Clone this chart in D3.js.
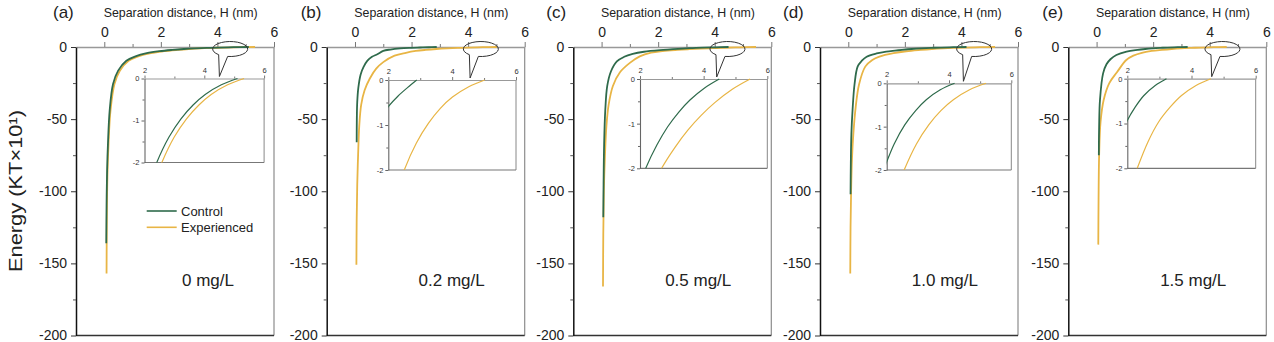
<!DOCTYPE html>
<html>
<head>
<meta charset="utf-8">
<script src="https://cdn.jsdelivr.net/npm/d3@7"></script>
<style>
  html, body { margin: 0; padding: 0; background: #fff; }
  svg { display: block; font-family: Arial, "Liberation Sans", sans-serif; }
</style>
</head>
<body>
<svg id="chart" width="1274" height="342"></svg>
<script>
// ---------- data ----------
const panelLabels = ["(a)", "(b)", "(c)", "(d)", "(e)"];
const concLabels = ["0 mg/L", "0.2 mg/L", "0.5 mg/L", "1.0 mg/L", "1.5 mg/L"];
const seriesNames = ["Control", "Experienced"];
const xTitle = "Separation distance, H (nm)";
const yTitle = "Energy (KT\u00D710\u00B9)";
const xTicks = [0, 2, 4, 6];
const xMinorTicks = [1, 3, 5];
const yTicks = [0, -50, -100, -150, -200];
const yMinorTicks = [-25, -75, -125, -175];
const insetXTicks = [2, 4, 6];
const insetXMinor = [3, 5];
const insetYTicks = [0, -1, -2];
const insetYMinor = [-0.5, -1.5];

// [H (nm), energy (KT x10^1)]
const control_0 = [[0.07,-136],[0.08,-110],[0.1,-85],[0.13,-67],[0.19,-44],[0.31,-25.6],[0.49,-16.4],[0.78,-9.5],[1.1,-6.5],[1.5,-4.3],[1.95,-2.9],[2.41,-2],[2.815,-1.40],[3.22,-0.96],[3.625,-0.63],[4.03,-0.38],[4.57,-0.15],[5.11,0]];
const experienced_0 = [[0.08,-157],[0.09,-120],[0.11,-90],[0.15,-67],[0.22,-44],[0.36,-25.6],[0.55,-16.4],[0.86,-9.5],[1.2,-6.5],[1.65,-4.2],[2.1,-2.9],[2.58,-2],[2.99,-1.40],[3.405,-0.96],[3.82,-0.63],[4.23,-0.38],[4.78,-0.15],[5.33,0]];
const control_02 = [[0.06,-66],[0.065,-50],[0.08,-38],[0.12,-28],[0.2,-19],[0.3,-14],[0.44,-9.5],[0.6,-6.8],[0.79,-5],[1.0,-2.7],[1.25,-1.75],[1.6,-1.0],[2,-0.59],[2.3,-0.36],[2.6,-0.17],[2.89,0]];
const experienced_02 = [[0.05,-151],[0.06,-120],[0.08,-95],[0.11,-75],[0.15,-55],[0.22,-40],[0.34,-30],[0.52,-22],[0.75,-15],[1.0,-10.5],[1.4,-6.0],[1.8,-4.0],[2.15,-2.75],[2.5,-2],[2.88,-1.40],[3.26,-0.96],[3.63,-0.63],[4.01,-0.38],[4.52,-0.15],[5.02,0]];
const control_05 = [[0.06,-118],[0.07,-95],[0.09,-67],[0.13,-44],[0.2,-27],[0.33,-17],[0.54,-10],[0.8,-6.8],[1.1,-4.8],[1.5,-3.3],[2.18,-2],[2.53,-1.48],[2.87,-1.07],[3.22,-0.74],[3.57,-0.47],[4.03,-0.20],[4.49,0]];
const experienced_05 = [[0.05,-166],[0.06,-130],[0.08,-100],[0.12,-75],[0.17,-55],[0.25,-40],[0.4,-27],[0.65,-17.5],[1.0,-11],[1.35,-6.5],[1.75,-3.9],[2.15,-2.8],[2.68,-2],[3.1,-1.53],[3.51,-1.14],[3.93,-0.81],[4.35,-0.53],[4.9,-0.23],[5.46,0]];
const control_10 = [[0.08,-102],[0.09,-80],[0.11,-60],[0.15,-44],[0.22,-26],[0.33,-13.6],[0.48,-9.5],[0.65,-6.7],[1.0,-4.5],[1.34,-3.2],[1.65,-2.5],[1.9,-2],[2.24,-1.40],[2.58,-0.96],[2.93,-0.63],[3.27,-0.38],[3.72,-0.15],[4.18,0]];
const experienced_10 = [[0.07,-157],[0.08,-125],[0.1,-100],[0.13,-78],[0.18,-60],[0.26,-42],[0.38,-26],[0.6,-13.6],[0.85,-9],[1.1,-6.7],[1.6,-4.3],[2.05,-2.95],[2.56,-2],[2.955,-1.40],[3.35,-0.96],[3.74,-0.63],[4.14,-0.38],[4.66,-0.15],[5.19,0]];
const control_15 = [[0.08,-75],[0.09,-55],[0.12,-36.7],[0.23,-18.3],[0.35,-12],[0.49,-8.5],[0.7,-5.5],[1.06,-3.2],[1.45,-2],[1.72,-1.40],[1.98,-0.96],[2.25,-0.63],[2.51,-0.38],[2.87,-0.15],[3.22,0]];
const experienced_15 = [[0.06,-137],[0.07,-105],[0.09,-75],[0.14,-52],[0.25,-36.7],[0.45,-25],[0.72,-17.5],[1.05,-9],[1.3,-6],[1.6,-4.0],[1.95,-2.75],[2.31,-2],[2.65,-1.40],[2.98,-0.96],[3.34,-0.63],[3.68,-0.38],[4.14,-0.15],[4.6,0]];

const controlCurves = [control_0, control_02, control_05, control_10, control_15];
const experiencedCurves = [experienced_0, experienced_02, experienced_05, experienced_10, experienced_15];

// ---------- layout / style ----------
const COL_CTRL = "#2f6b4c";
const COL_EXP = "#e8b545";
const panelLeft = [76, 326.7, 573.3, 820, 1068.3];
const panelW = 198;
const plotTop = 47, plotBottom = 335.5;
const labelDx = [-23, -26, -27, -37, -26];
// inset boxes: [left offset from panel left, width, top, bottom]
const insetBox = [[68.5, 119.6, 78.5, 162.5], [61.6, 127.7, 80, 170], [66.7, 127.3, 79, 168.3], [66.7, 124.6, 83.3, 170], [59, 128.4, 78.7, 168.3]];
const FONT = "Arial, 'Liberation Sans', sans-serif";

const svg = d3.select("#chart");
const defs = svg.append("defs");
const fmt = d => String(d);

panelLabels.forEach((lab, i) => {
  const L = panelLeft[i];
  const x = d3.scaleLinear().domain([-1, 6]).range([L, L + panelW]);
  const y = d3.scaleLinear().domain([-200, 0]).range([plotBottom, plotTop]);
  const g = svg.append("g");

  defs.append("clipPath").attr("id", "clip" + i).append("rect")
    .attr("x", L).attr("y", plotTop - 3).attr("width", panelW).attr("height", plotBottom - plotTop + 3);

  // right & bottom frame
  g.append("line").attr("x1", L + panelW).attr("x2", L + panelW).attr("y1", plotTop).attr("y2", plotBottom)
    .attr("stroke", "#8c8c8c").attr("stroke-width", 1.2);
  g.append("line").attr("x1", L).attr("x2", L + panelW).attr("y1", plotBottom).attr("y2", plotBottom)
    .attr("stroke", "#333").attr("stroke-width", 1.3);

  // top axis
  const ax = g.append("g").attr("transform", `translate(0,${plotTop})`)
    .call(d3.axisTop(x).tickValues(xTicks).tickSize(5).tickSizeOuter(0).tickPadding(5).tickFormat(fmt));
  ax.select(".domain").attr("stroke", "#999").attr("stroke-width", 1.3);
  ax.selectAll(".tick line").attr("stroke", "#777");
  ax.selectAll("text").attr("font-size", 14).attr("fill", "#222").attr("font-family", FONT);
  const axm = g.append("g").attr("transform", `translate(0,${plotTop})`)
    .call(d3.axisTop(x).tickValues(xMinorTicks).tickSize(3).tickFormat(""));
  axm.select(".domain").remove();
  axm.selectAll(".tick line").attr("stroke", "#777");

  // left axis
  const ay = g.append("g").attr("transform", `translate(${L},0)`)
    .call(d3.axisLeft(y).tickValues(yTicks).tickSize(5).tickSizeOuter(0).tickPadding(4).tickFormat(fmt));
  ay.select(".domain").attr("stroke", "#111").attr("stroke-width", 1.5);
  ay.selectAll(".tick line").attr("stroke", "#333");
  ay.selectAll("text").attr("font-size", 14).attr("fill", "#222").attr("font-family", FONT);
  const aym = g.append("g").attr("transform", `translate(${L},0)`)
    .call(d3.axisLeft(y).tickValues(yMinorTicks).tickSize(3).tickFormat(""));
  aym.select(".domain").remove();
  aym.selectAll(".tick line").attr("stroke", "#555");

  // curves
  const line = d3.line().x(d => x(d[0])).y(d => y(d[1])).curve(d3.curveCatmullRom.alpha(0.5));
  const cg = g.append("g").attr("clip-path", `url(#clip${i})`);
  cg.append("path").datum(experiencedCurves[i]).attr("d", line).attr("fill", "none")
    .attr("stroke", COL_EXP).attr("stroke-width", 1.8);
  cg.append("path").datum(controlCurves[i]).attr("d", line).attr("fill", "none")
    .attr("stroke", COL_CTRL).attr("stroke-width", 1.8);

  // titles
  g.append("text").attr("x", L + labelDx[i]).attr("y", 18).attr("font-size", 17).attr("fill", "#222").text(lab);
  g.append("text").attr("x", x(2.7)).attr("y", 16.5).attr("text-anchor", "middle").attr("font-size", 13)
    .attr("fill", "#222").attr("textLength", 154).attr("lengthAdjust", "spacingAndGlyphs").text(xTitle);
  g.append("text").attr("x", L + 158).attr("y", 286).attr("text-anchor", "end").attr("font-size", 17)
    .attr("fill", "#222").text(concLabels[i]);

  // ---------- inset ----------
  const [iOff, iW, iT, iB] = insetBox[i];
  const iL = L + iOff;
  const xi = d3.scaleLinear().domain([2, 6]).range([iL, iL + iW]);
  const yi = d3.scaleLinear().domain([-2, 0]).range([iB, iT]);
  defs.append("clipPath").attr("id", "iclip" + i).append("rect")
    .attr("x", iL).attr("y", iT - 1).attr("width", iW).attr("height", iB - iT + 1);
  const ig = g.append("g");
  ig.append("line").attr("x1", iL + iW).attr("x2", iL + iW).attr("y1", iT).attr("y2", iB).attr("stroke", "#888");
  ig.append("line").attr("x1", iL).attr("x2", iL + iW).attr("y1", iB).attr("y2", iB).attr("stroke", "#777").attr("stroke-width", 1.2);
  const iax = ig.append("g").attr("transform", `translate(0,${iT})`)
    .call(d3.axisTop(xi).tickValues(insetXTicks).tickSize(3).tickSizeOuter(0).tickPadding(3).tickFormat(fmt));
  iax.select(".domain").attr("stroke", "#999").attr("stroke-width", 1.2);
  iax.selectAll(".tick line").attr("stroke", "#777");
  iax.selectAll("text").attr("font-size", 7.5).attr("fill", "#333").attr("font-family", FONT);
  const iaxm = ig.append("g").attr("transform", `translate(0,${iT})`)
    .call(d3.axisTop(xi).tickValues(insetXMinor).tickSize(2).tickFormat(""));
  iaxm.select(".domain").remove();
  iaxm.selectAll(".tick line").attr("stroke", "#777");
  const iay = ig.append("g").attr("transform", `translate(${iL},0)`)
    .call(d3.axisLeft(yi).tickValues(insetYTicks).tickSize(3).tickSizeOuter(0).tickPadding(2).tickFormat(fmt));
  iay.select(".domain").attr("stroke", "#666").attr("stroke-width", 1.1);
  iay.selectAll(".tick line").attr("stroke", "#666");
  iay.selectAll("text").attr("font-size", 7.5).attr("fill", "#333").attr("font-family", FONT);
  const iaym = ig.append("g").attr("transform", `translate(${iL},0)`)
    .call(d3.axisLeft(yi).tickValues(insetYMinor).tickSize(2).tickFormat(""));
  iaym.select(".domain").remove();
  iaym.selectAll(".tick line").attr("stroke", "#666");

  const iline = d3.line().x(d => xi(d[0])).y(d => yi(d[1])).curve(d3.curveCatmullRom.alpha(0.5));
  const icg = ig.append("g").attr("clip-path", `url(#iclip${i})`);
  icg.append("path").datum(experiencedCurves[i]).attr("d", iline).attr("fill", "none")
    .attr("stroke", COL_EXP).attr("stroke-width", 1.2);
  icg.append("path").datum(controlCurves[i]).attr("d", iline).attr("fill", "none")
    .attr("stroke", COL_CTRL).attr("stroke-width", 1.2);

  // callout bubble
  const cx = x(4.45), cy = y(-1.4), rx = 17.5, ry = 7.5;
  const tipX = x(4.07), tipY = iT - 2;
  const onEll = px => cy + ry * Math.sqrt(Math.max(0, 1 - Math.pow((px - cx) / rx, 2)));
  const lbX = cx - 11.5, rbX = cx - 2.5;
  const p = `M${rbX},${onEll(rbX)} A${rx},${ry} 0 1 0 ${lbX},${onEll(lbX)} L${tipX},${tipY} Z`;
  g.append("path").attr("d", p).attr("fill", "none").attr("stroke", "#333").attr("stroke-width", 1);
});

// legend (panel a)
const legY = [211, 227.3];
const legCols = [COL_CTRL, COL_EXP];
seriesNames.forEach((s, k) => {
  svg.append("line").attr("x1", 146.7).attr("x2", 176.7).attr("y1", legY[k]).attr("y2", legY[k])
    .attr("stroke", legCols[k]).attr("stroke-width", 1.6);
  svg.append("text").attr("x", 181).attr("y", legY[k] + 4.6).attr("font-size", 13).attr("fill", "#222").text(s);
});

// y title
svg.append("text").attr("transform", "translate(22,191) rotate(-90)").attr("text-anchor", "middle")
  .attr("font-size", 19).attr("fill", "#222").attr("textLength", 162).attr("lengthAdjust", "spacingAndGlyphs")
  .text(yTitle);
</script>
</body>
</html>
